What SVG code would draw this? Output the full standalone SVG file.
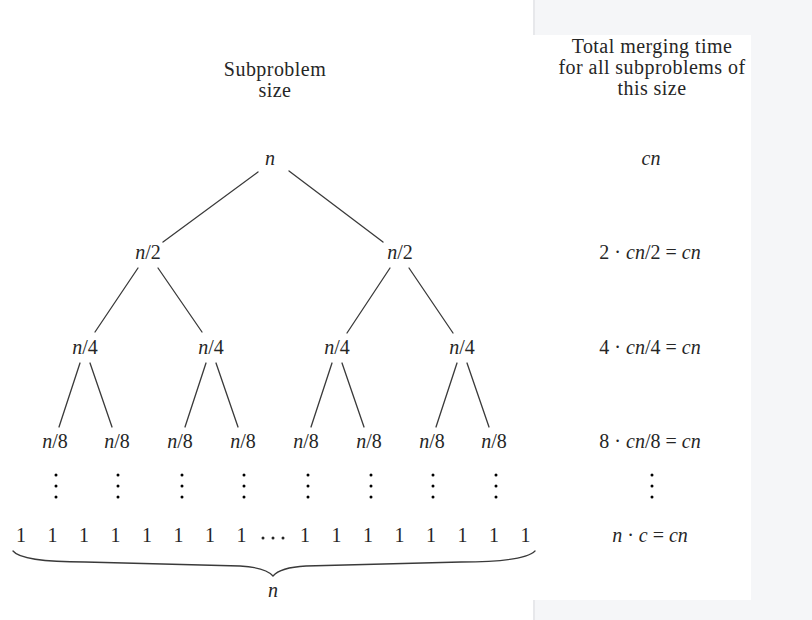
<svg xmlns="http://www.w3.org/2000/svg" width="812" height="620" viewBox="0 0 812 620">
<style>
text{font-family:"Liberation Serif","Times New Roman",serif;font-size:20px;fill:#262626;text-anchor:middle}
.h{letter-spacing:0.45px}
.i{font-style:italic}
.e line,.e path{stroke:#3a3a3a;stroke-width:1.3;fill:none;stroke-linecap:round}
.d circle{fill:#262626}
</style>
<defs>
<g id="vd"><circle cx="0" cy="0" r="1.5"/><circle cx="0" cy="11" r="1.5"/><circle cx="0" cy="22" r="1.5"/></g>
</defs>
<rect x="0" y="0" width="812" height="620" fill="#ffffff"/>
<rect x="533" y="0" width="279" height="620" fill="#f5f6f8"/>
<rect x="533" y="0" width="2" height="620" fill="#e7e8eb"/>
<rect x="533" y="35" width="218" height="565" fill="#ffffff"/>

<g id="header-left"><text class="h" x="275" y="76">Subproblem</text><text class="h" x="275" y="97">size</text></g>
<g id="header-right"><text class="h" x="652" y="53">Total merging time</text><text class="h" x="652" y="74">for all subproblems of</text><text class="h" x="652" y="95">this size</text></g>

<g id="connectors" class="e">
<line x1="258" y1="172" x2="163" y2="242"/><line x1="289" y1="171" x2="383" y2="242"/>
<line x1="138" y1="268" x2="95" y2="332"/><line x1="158" y1="268" x2="202" y2="332"/>
<line x1="390" y1="268" x2="347" y2="333"/><line x1="409" y1="268" x2="453" y2="333"/>
<line x1="80" y1="363" x2="59" y2="427"/><line x1="90" y1="363" x2="112" y2="427"/>
<line x1="206" y1="363" x2="185" y2="427"/><line x1="216" y1="363" x2="238" y2="427"/>
<line x1="332" y1="363" x2="311" y2="427"/><line x1="342" y1="363" x2="364" y2="427"/>
<line x1="457" y1="363" x2="436" y2="427"/><line x1="467" y1="363" x2="489" y2="427"/>
<path d="M13,551 C20,560 50,562 85,562 L240,566 C258,567 268,570 273,576 C278,570 288,567 306,566 L461,562 C496,562 526,560 535,551"/>
</g>

<g id="root"><text class="i" x="270" y="165">n</text></g>
<g id="n2a"><text x="148" y="259"><tspan class="i">n</tspan>/2</text></g>
<g id="n2b"><text x="400" y="259"><tspan class="i">n</tspan>/2</text></g>
<g id="n4a"><text x="85" y="354"><tspan class="i">n</tspan>/4</text></g>
<g id="n4b"><text x="211" y="354"><tspan class="i">n</tspan>/4</text></g>
<g id="n4c"><text x="337" y="354"><tspan class="i">n</tspan>/4</text></g>
<g id="n4d"><text x="462" y="354"><tspan class="i">n</tspan>/4</text></g>
<g id="n8a"><text x="55" y="448"><tspan class="i">n</tspan>/8</text></g>
<g id="n8b"><text x="117" y="448"><tspan class="i">n</tspan>/8</text></g>
<g id="n8c"><text x="180" y="448"><tspan class="i">n</tspan>/8</text></g>
<g id="n8d"><text x="243" y="448"><tspan class="i">n</tspan>/8</text></g>
<g id="n8e"><text x="306" y="448"><tspan class="i">n</tspan>/8</text></g>
<g id="n8f"><text x="369" y="448"><tspan class="i">n</tspan>/8</text></g>
<g id="n8g"><text x="432" y="448"><tspan class="i">n</tspan>/8</text></g>
<g id="n8h"><text x="494" y="448"><tspan class="i">n</tspan>/8</text></g>

<g id="vdots" class="d">
<use href="#vd" x="56" y="475"/><use href="#vd" x="118" y="475"/><use href="#vd" x="182" y="475"/><use href="#vd" x="244" y="475"/>
<use href="#vd" x="308" y="475"/><use href="#vd" x="371" y="475"/><use href="#vd" x="433" y="475"/><use href="#vd" x="496" y="475"/>
<use href="#vd" x="652" y="475"/>
</g>

<g id="leaves">
<text x="21" y="542">1</text><text x="52.5" y="542">1</text><text x="84" y="542">1</text><text x="115.5" y="542">1</text>
<text x="147" y="542">1</text><text x="178.5" y="542">1</text><text x="210" y="542">1</text><text x="241.5" y="542">1</text>
<text x="305" y="542">1</text><text x="336.5" y="542">1</text><text x="368" y="542">1</text><text x="399.5" y="542">1</text>
<text x="431" y="542">1</text><text x="462.5" y="542">1</text><text x="494" y="542">1</text><text x="525.5" y="542">1</text>
</g>
<g id="hdots" class="d"><circle cx="263" cy="538" r="1.5"/><circle cx="273" cy="538" r="1.5"/><circle cx="283" cy="538" r="1.5"/></g>
<g id="brace-label"><text class="i" x="273" y="597">n</text></g>

<g id="cost0"><text class="i" x="651" y="165">cn</text></g>
<g id="cost1"><text x="650" y="259">2 · <tspan class="i">cn</tspan>/2 = <tspan class="i">cn</tspan></text></g>
<g id="cost2"><text x="650" y="354">4 · <tspan class="i">cn</tspan>/4 = <tspan class="i">cn</tspan></text></g>
<g id="cost3"><text x="650" y="448">8 · <tspan class="i">cn</tspan>/8 = <tspan class="i">cn</tspan></text></g>
<g id="cost4"><text x="650" y="542"><tspan class="i">n</tspan> · <tspan class="i">c</tspan> = <tspan class="i">cn</tspan></text></g>
</svg>
